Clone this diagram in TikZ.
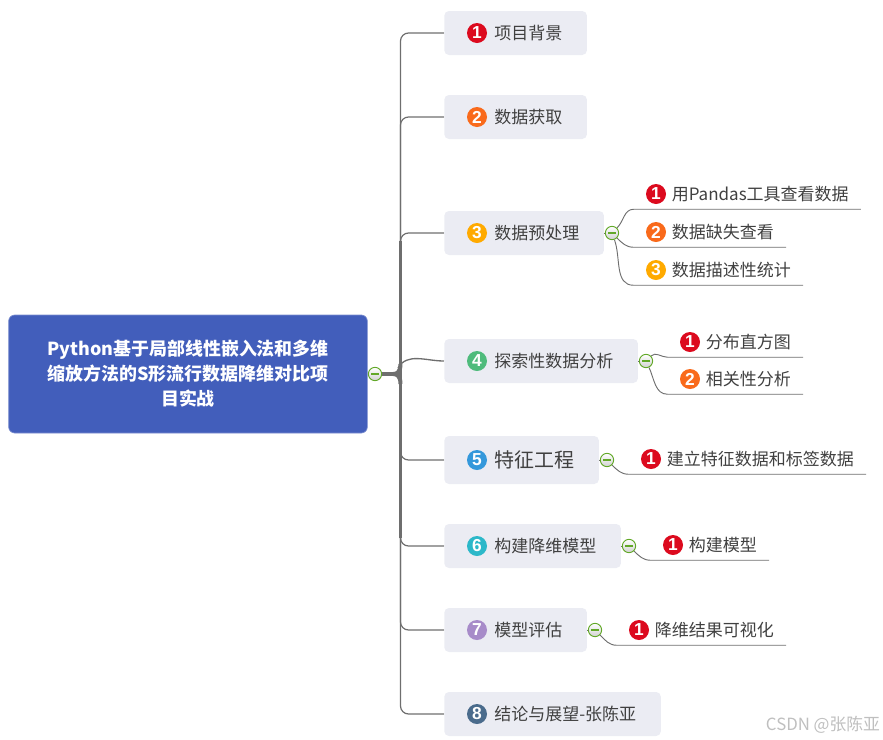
\documentclass[tikz,border=0pt]{standalone}
\usepackage{fontspec}
\usepackage{xcolor}
\usepackage{tikz}
\usetikzlibrary{arrows.meta, positioning, backgrounds, calc, shadings}
\setmainfont{Noto Sans CJK SC}
\newfontfamily\badgefont{Liberation Sans}
\definecolor{mapRoot}{HTML}{425EBB}
\definecolor{mapTopic}{HTML}{EBECF3}
\definecolor{mapLine}{HTML}{6E6E6E}
\definecolor{mapText}{HTML}{404040}
\definecolor{mapFold}{HTML}{62A828}
\definecolor{markA}{HTML}{DC0A1E}
\definecolor{markB}{HTML}{F96A1B}
\definecolor{markC}{HTML}{FFAA00}
\definecolor{markD}{HTML}{4FBB7C}
\definecolor{markE}{HTML}{3498DB}
\definecolor{markF}{HTML}{2CB8C9}
\definecolor{markG}{HTML}{A78BC9}
\definecolor{markH}{HTML}{4A6B8C}

\begin{document}
\begin{tikzpicture}[
  x=0.75pt, y=-0.75pt,
  root/.style={fill=mapRoot, draw=mapRoot!70!white, line width=0.5pt, rounded corners=4.5pt,
               minimum width=269pt, minimum height=88.5pt, align=center, text=white,
               font=\fontsize{13.45}{18.75}\selectfont\bfseries},
  topic/.style={fill=mapTopic, rounded corners=3.5pt, anchor=west, minimum height=33pt,
                inner xsep=18.5pt, inner ysep=0pt, text=mapText,
                font=\fontsize{12.75}{16}\selectfont,
                execute at begin node=\hspace*{19pt}},
  subtopic/.style={anchor=west, minimum height=22.5pt, inner xsep=9pt, inner ysep=0pt,
                   text=mapText, font=\fontsize{12.75}{16}\selectfont},
  badge/.style={circle, fill=#1, text=white, minimum size=15pt, inner sep=0pt,
                font=\fontsize{13}{13}\selectfont\badgefont\bfseries},
  fold/.style={circle, draw=mapFold, line width=0.7pt, top color=white, bottom color=black!18,
               minimum size=10pt, inner sep=0pt,
               path picture={\draw[mapFold, line width=0.8pt]
                 ([xshift=-3pt]path picture bounding box.center) -- ([xshift=3pt]path picture bounding box.center);}},
  branch/.style={draw=mapLine, line width=0.9pt, rounded corners=6pt},
  twig/.style={draw=mapLine, line width=0.7pt}
]
\useasboundingbox (0,0) rectangle (883,740);

\node[root] (root) at (188,374) {Python基于局部线性嵌入法和多维\\缩放方法的S形流行数据降维对比项\\目实战};

\node[topic] (t1) at (444,33) {项目背景};
\node[topic] (t2) at (444,117) {数据获取};
\node[topic] (t3) at (444,233) {数据预处理};
\node[topic] (t4) at (444,361) {探索性数据分析};
\node[topic, minimum height=36pt, font=\fontsize{15}{18}\selectfont] (t5) at (444,460) {特征工程};
\node[topic] (t6) at (444,546) {构建降维模型};
\node[topic] (t7) at (444,630) {模型评估};
\node[topic] (t8) at (444,714) {结论与展望-张陈亚};

\foreach \n/\c [count=\i] in {t1/markA,t2/markB,t3/markC,t4/markD,t5/markE,t6/markF,t7/markG,t8/markH}
  \node[badge=\c] (b\n) at ($(\n.west)+(33,0)$) {\i};

\node[fold] (c0) at (375,374) {};
\node[fold] (c3) at (612,233) {};
\node[fold] (c4) at (646,361) {};
\node[fold] (c5) at (607,460) {};
\node[fold] (c6) at (629,546) {};
\node[fold] (c7) at (595,630) {};

\node[subtopic] (s31) at (659.5,194) {用Pandas工具查看数据};
\node[subtopic] (s32) at (659.5,232) {数据缺失查看};
\node[subtopic] (s33) at (659.5,270) {数据描述性统计};
\node[subtopic] (s41) at (693.5,342) {分布直方图};
\node[subtopic] (s42) at (693.5,379) {相关性分析};
\node[subtopic] (s51) at (654.5,459) {建立特征数据和标签数据};
\node[subtopic] (s61) at (676.5,545) {构建模型};
\node[subtopic] (s71) at (642.5,630) {降维结果可视化};

\node[badge=markA] (m31) at (656,194) {1};
\node[badge=markB] (m32) at (656,232) {2};
\node[badge=markC] (m33) at (656,270) {3};
\node[badge=markA] (m41) at (690,342) {1};
\node[badge=markB] (m42) at (690,379) {2};
\node[badge=markA] (m51) at (651,459) {1};
\node[badge=markA] (m61) at (673,545) {1};
\node[badge=markA] (m71) at (639,630) {1};

\node[text=black!25, font=\fontsize{12.6}{14}\selectfont] (mark) at (823,725) {CSDN @张陈亚};

\coordinate (hub) at (393,374);
\coordinate (spine) at (400.5,374);

\begin{scope}[on background layer]
  \draw[mapLine, line width=3.4pt] (c0) -- (hub);
  \draw[mapLine, line width=3pt] (hub) .. controls (397,374) and (400.5,372) .. (400.5,364);
  \draw[mapLine, line width=3pt] (hub) .. controls (397,374) and (400.5,376) .. (400.5,384);
  % spine gets thinner away from the root
  \foreach \n/\w in {t1/1,t2/1.3,t3/2.2,t8/1,t7/1.3,t6/2,t5/2.8}
    \draw[mapLine, line width=\w pt] (spine) -- ($(spine |- \n.west)!6pt!(spine)$);
  \foreach \n in {t1,t2,t3,t5,t6,t7,t8}
    \draw[branch] (spine) |- (\n.west);
  \draw[twig, line width=1pt] (398,368) to[out=60,in=180] (t4.west);

  \foreach \p in {3,4,5,6,7}
    \draw[twig] (t\p.east) -- (c\p);
  \foreach \c/\m/\s/\o in {c3/m31/s31/45,c3/m32/s32/-45,c3/m33/s33/-70,c4/m41/s41/45,c4/m42/s42/-65,c5/m51/s51/-45,c6/m61/s61/-45,c7/m71/s71/-45}
    \draw[twig] (\c) to[out=\o,in=180] ([xshift=-9pt]\m.west |- \s.south) -- (\s.south east);
\end{scope}
\end{tikzpicture}
\end{document}
